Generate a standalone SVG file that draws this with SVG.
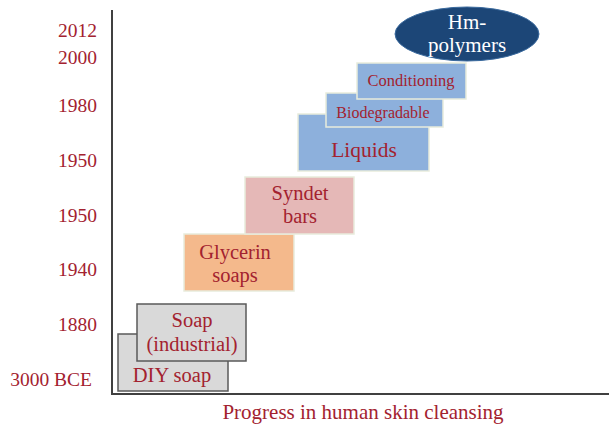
<svg xmlns="http://www.w3.org/2000/svg" width="609" height="428" viewBox="0 0 609 428">
<style>
text{font-family:"Liberation Serif","Times New Roman",serif;fill:#a3222f}
.yr{font-size:19.5px;text-anchor:end}
.lbl{text-anchor:middle}
.gray{fill:#d9d9d9;stroke:#5a5a5a;stroke-width:1.5}
.box{stroke:#e8ebdc;stroke-width:1.5}
</style>
<rect width="609" height="428" fill="#fff"/>
<g id="axes" stroke="#404040" stroke-width="2">
<line x1="112" y1="10" x2="112" y2="394"/>
<line x1="111" y1="394" x2="609" y2="394"/>
</g>
<g id="years">
<text class="yr" x="97" y="37">2012</text>
<text class="yr" x="97" y="64">2000</text>
<text class="yr" x="97" y="112">1980</text>
<text class="yr" x="97" y="167">1950</text>
<text class="yr" x="97" y="222">1950</text>
<text class="yr" x="97" y="276">1940</text>
<text class="yr" x="97" y="331">1880</text>
<text class="yr" x="92" y="386">3000 BCE</text>
</g>
<g id="diy"><rect class="gray" x="118" y="334" width="110" height="57"/><text class="lbl" x="172" y="382" font-size="20.5">DIY soap</text></g>
<g id="soap"><rect class="gray" x="137" y="304" width="109" height="57"/><text class="lbl" x="192" y="327" font-size="20.5">Soap</text><text class="lbl" x="192" y="351" font-size="20.5">(industrial)</text></g>
<g id="glycerin"><rect class="box" x="184" y="234" width="110" height="57" fill="#f4b98c"/><text class="lbl" x="235" y="259" font-size="20.5">Glycerin</text><text class="lbl" x="235" y="282" font-size="20.5">soaps</text></g>
<g id="syndet"><rect class="box" x="245" y="177" width="109" height="57" fill="#e5b8b7"/><text class="lbl" x="300" y="200" font-size="20.5">Syndet</text><text class="lbl" x="300" y="223" font-size="20.5">bars</text></g>
<g id="liquids"><rect class="box" x="298" y="114" width="131" height="57" fill="#8db0dc"/><text class="lbl" x="364" y="157" font-size="21.5">Liquids</text></g>
<g id="biodegradable"><rect class="box" x="326" y="93" width="117" height="34" fill="#8db0dc"/><text class="lbl" x="383" y="118" font-size="16">Biodegradable</text></g>
<g id="conditioning"><rect class="box" x="357" y="63" width="109" height="36" fill="#8db0dc"/><text class="lbl" x="411" y="86" font-size="16.5">Conditioning</text></g>
<g id="hm"><ellipse cx="467" cy="34" rx="72" ry="27" fill="#1c4677" stroke="#3a6a9e" stroke-width="1"/><text class="lbl" x="467" y="29" font-size="21" style="fill:#fff">Hm-</text><text class="lbl" x="467" y="52" font-size="21" style="fill:#fff">polymers</text></g>
<text class="lbl" x="363" y="419" font-size="21">Progress in human skin cleansing</text>
</svg>
